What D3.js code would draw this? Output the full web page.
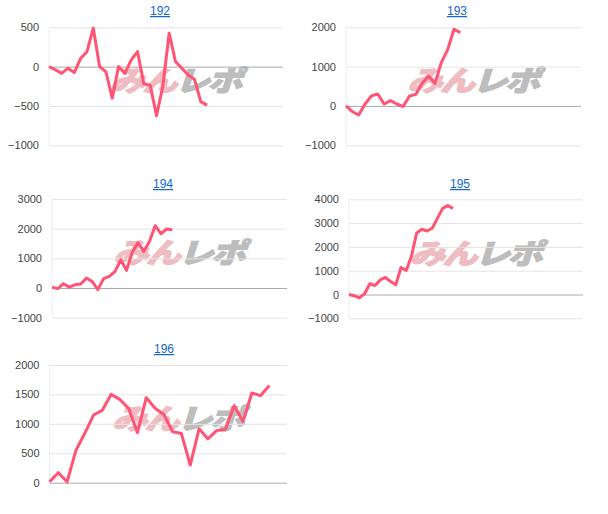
<!DOCTYPE html>
<html>
<head>
<meta charset="utf-8">
<script src="https://cdn.jsdelivr.net/npm/d3@7"></script>
<style>
  body { margin: 0; background: #fff; }
  svg { display: block; font-family: "Liberation Sans", Arial, sans-serif; }
</style>
</head>
<body>
<div id="chart"></div>
<script>
// chart titles
var titles = ["192", "193", "194", "195", "196"];

// series values, one per small chart
var values192 = [0, -40, -85, -20, -75, 105, 190, 490, 0, -65, -400, 0, -85, 85, 190, -220, -235, -625, -250, 425, 65, -20, -105, -160, -445, -490];
var values193 = [0, -145, -230, 50, 255, 305, 50, 135, 50, -15, 255, 295, 575, 760, 575, 1100, 1425, 1950, 1865];
var values194 = [30, -20, 145, 30, 110, 135, 335, 225, -55, 315, 395, 560, 950, 595, 1200, 1535, 1235, 1570, 2100, 1830, 1990, 1965];
var values195 = [0, -55, -140, 30, 450, 380, 615, 715, 545, 405, 1135, 1010, 1600, 2580, 2740, 2670, 2785, 3200, 3620, 3735, 3620];
var values196 = [15, 170, 15, 550, 835, 1150, 1230, 1500, 1415, 1260, 850, 1445, 1265, 1160, 865, 835, 300, 915, 745, 885, 910, 1310, 1040, 1525, 1480, 1650];

// y tick labels per chart
var ticks192 = [-1000, -500, 0, 500];
var ticks193 = [-1000, 0, 1000, 2000];
var ticks194 = [-1000, 0, 1000, 2000, 3000];
var ticks195 = [-1000, 0, 1000, 2000, 3000, 4000];
var ticks196 = [0, 500, 1000, 1500, 2000];

// number of x slots on each chart's axis
var slots = [37, 37, 41, 45, 27];

var allValues = [values192, values193, values194, values195, values196];
var allTicks = [ticks192, ticks193, ticks194, ticks195, ticks196];

// panel boxes
var panels = [
  {left: 49, right: 283, top: 27.3, bottom: 145.3, tx: 160, ty: 15},
  {left: 346, right: 581, top: 27.3, bottom: 145.3, tx: 457, ty: 15},
  {left: 52, right: 287, top: 199, bottom: 317.7, tx: 163, ty: 188},
  {left: 349, right: 583, top: 199.3, bottom: 318.3, tx: 460, ty: 188},
  {left: 49.5, right: 287, top: 365, bottom: 482.7, tx: 164, ty: 353}
];

var svg = d3.select("#chart")
  .append("svg")
    .attr("width", 608)
    .attr("height", 514);

panels.forEach(function(p, i) {
  var vals = allValues[i],
      ticks = allTicks[i];

  var x = d3.scaleLinear()
    .domain([0, slots[i]])
    .range([p.left, p.right]);

  var y = d3.scaleLinear()
    .domain(d3.extent(ticks))
    .range([p.bottom, p.top]);

  var g = svg.append("g");

  // title link
  g.append("text")
    .attr("x", p.tx)
    .attr("y", p.ty)
    .attr("text-anchor", "middle")
    .style("font-size", "12px")
    .style("fill", "#1166cc")
    .style("text-decoration", "underline")
    .text(titles[i]);

  // watermark
  var wm = g.append("text")
    .attr("transform", "translate(" + ((p.left + p.right) / 2 + 9) + "," + ((p.top + p.bottom) / 2 + 5) + ") scale(1.25,1) skewX(-14)")
    .attr("text-anchor", "middle")
    .style("font-size", "28px")
    .style("font-weight", "900")
    .style("font-family", "'Noto Sans CJK JP', sans-serif")
    .style("letter-spacing", "-2px")
    .style("stroke-width", "1.2px");
  wm.append("tspan").style("fill", "#efbcc1").style("stroke", "#efbcc1").text("みん");
  wm.append("tspan").style("fill", "#bdbdbd").style("stroke", "#bdbdbd").text("レポ");

  // y axis with gridlines
  var yAxis = g.append("g")
    .attr("transform", "translate(" + p.left + ",0)")
    .call(d3.axisLeft(y)
      .tickValues(ticks)
      .tickSize(-(p.right - p.left))
      .tickPadding(10)
      .tickFormat(d3.format("d")));

  yAxis.select(".domain").remove();
  yAxis.selectAll("line")
    .attr("stroke", function(d) { return d === 0 ? "#aaaaaa" : "#e4e4e4"; })
    .attr("stroke-width", 1);
  yAxis.selectAll("text")
    .style("font-size", "11px")
    .style("font-family", "'Liberation Sans', Arial, sans-serif")
    .attr("fill", "#444");

  // left vertical axis line
  g.append("line")
    .attr("x1", p.left).attr("x2", p.left)
    .attr("y1", p.top).attr("y2", p.bottom)
    .attr("stroke", "#ececec");

  // series line
  var line = d3.line()
    .x(function(d, j) { return x(j); })
    .y(function(d) { return y(d); });

  g.append("path")
    .datum(vals)
    .attr("fill", "none")
    .attr("stroke", "#ff5473")
    .attr("stroke-width", 3)
    .attr("stroke-linejoin", "round")
    .attr("d", line);
});
</script>
</body>
</html>
